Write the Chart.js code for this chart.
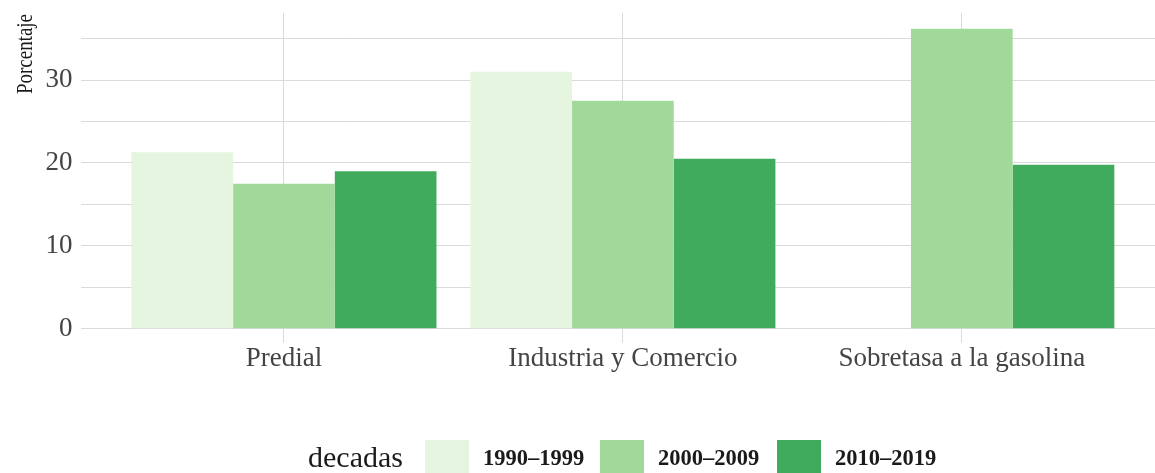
<!DOCTYPE html>
<html>
<head>
<meta charset="utf-8">
<script src="https://cdn.jsdelivr.net/npm/chart.js@4"></script>
<style>
  html, body { margin: 0; padding: 0; background: #fff; overflow: hidden; }
  #wrap { position: relative; width: 1155px; height: 473px; }
  #legend { position: absolute; left: 0; top: 0; width: 1155px; height: 473px; pointer-events: none;
            font-family: "Liberation Serif", "Times New Roman", serif; color: #1a1a1a; }
  #legend .title { position: absolute; left: 308px; top: 440px; font-size: 30px; line-height: 34px; }
  #legend .box { position: absolute; top: 440px; width: 44px; height: 34px; }
  #legend .lab { position: absolute; top: 443px; font-size: 22.5px; line-height: 30px; font-weight: bold; }
</style>
</head>
<body>
<div id="wrap">
  <canvas id="chart" width="1155" height="473"></canvas>
  <div id="legend"></div>
</div>
<script>
const categories = ['Predial', 'Industria y Comercio', 'Sobretasa a la gasolina'];
const decades = ['1990–1999', '2000–2009', '2010–2019'];
const values1990 = [21.3, 31.0, null];
const values2000 = [17.5, 27.5, 36.2];
const values2010 = [19.0, 20.5, 19.8];
const yTickLabels = [0, 10, 20, 30];
const colors = ['#e5f5e0', '#a1d99b', '#41ab5d'];

const series = [values1990, values2000, values2010];
const gridColor = '#dadada';
const serif = '"Liberation Serif", "Times New Roman", serif';

// legend (title inline on the left, like ggplot)
const legend = document.getElementById('legend');
const boxLeft = [425, 600, 777];
legend.innerHTML = '<div class="title">decadas</div>' + decades.map(function (d, i) {
  return '<div class="box" style="left:' + boxLeft[i] + 'px;background:' + colors[i] + '"></div>' +
         '<div class="lab" style="left:' + (boxLeft[i] + 58) + 'px">' + d + '</div>';
}).join('');

const yTitle = {
  id: 'yTitle',
  afterDraw(chart) {
    const ctx = chart.ctx;
    ctx.save();
    ctx.font = '24px ' + serif;
    ctx.fillStyle = '#1a1a1a';
    ctx.textBaseline = 'alphabetic';
    ctx.textAlign = 'left';
    const w = ctx.measureText('Porcentaje').width;
    ctx.translate(32, 94);
    ctx.rotate(-Math.PI / 2);
    ctx.scale(80 / w, 1);
    ctx.fillText('Porcentaje', 0, 0);
    ctx.restore();
  }
};

const ctx = document.getElementById('chart').getContext('2d');
const chart = new Chart(ctx, {
  type: 'bar',
  data: {
    datasets: series.map(function (vals, i) {
      return {
        label: decades[i],
        data: vals.map(function (v, j) { return { x: j + 1, y: v }; }),
        backgroundColor: colors[i],
        borderWidth: 0,
        categoryPercentage: 0.9,
        barPercentage: 1.0
      };
    })
  },
  options: {
    responsive: false,
    animation: false,
    devicePixelRatio: 1,
    layout: { padding: { top: 13, left: 0, right: 0, bottom: 0 } },
    plugins: {
      legend: { display: false },
      tooltip: { enabled: false }
    },
    scales: {
      x: {
        type: 'linear',
        min: 0.4,
        max: 3.57,
        offset: false,
        grid: { color: gridColor, lineWidth: 1, tickLength: 14, offset: false },
        border: { display: false },
        afterBuildTicks: function (scale) {
          scale.ticks = categories.map(function (c, i) { return { value: i + 1 }; });
        },
        afterFit: function (scale) {
          scale.height = 473 - 328.7;
          scale.paddingLeft = 0;
          scale.paddingRight = 0;
        },
        ticks: {
          autoSkip: false,
          maxRotation: 0,
          padding: 0,
          color: '#444',
          font: { family: serif, size: 27 },
          callback: function (v) { return categories[v - 1]; }
        }
      },
      y: {
        min: 0,
        max: 38.1,
        grid: { color: gridColor, lineWidth: 1, drawTicks: false },
        border: { display: false },
        afterBuildTicks: function (scale) {
          // major + minor lines every 5, no line at the top edge
          const t = [];
          for (let v = 0; v <= 35; v += 5) t.push({ value: v });
          scale.ticks = t;
        },
        afterFit: function (scale) {
          scale.width = 80.6;
          scale.paddingTop = 0;
          scale.paddingBottom = 0;
        },
        ticks: {
          padding: 8,
          color: '#444',
          font: { family: serif, size: 27 },
          callback: function (v) { return yTickLabels.indexOf(v) >= 0 ? v : ''; }
        }
      }
    }
  },
  plugins: [yTitle]
});
</script>
</body>
</html>
